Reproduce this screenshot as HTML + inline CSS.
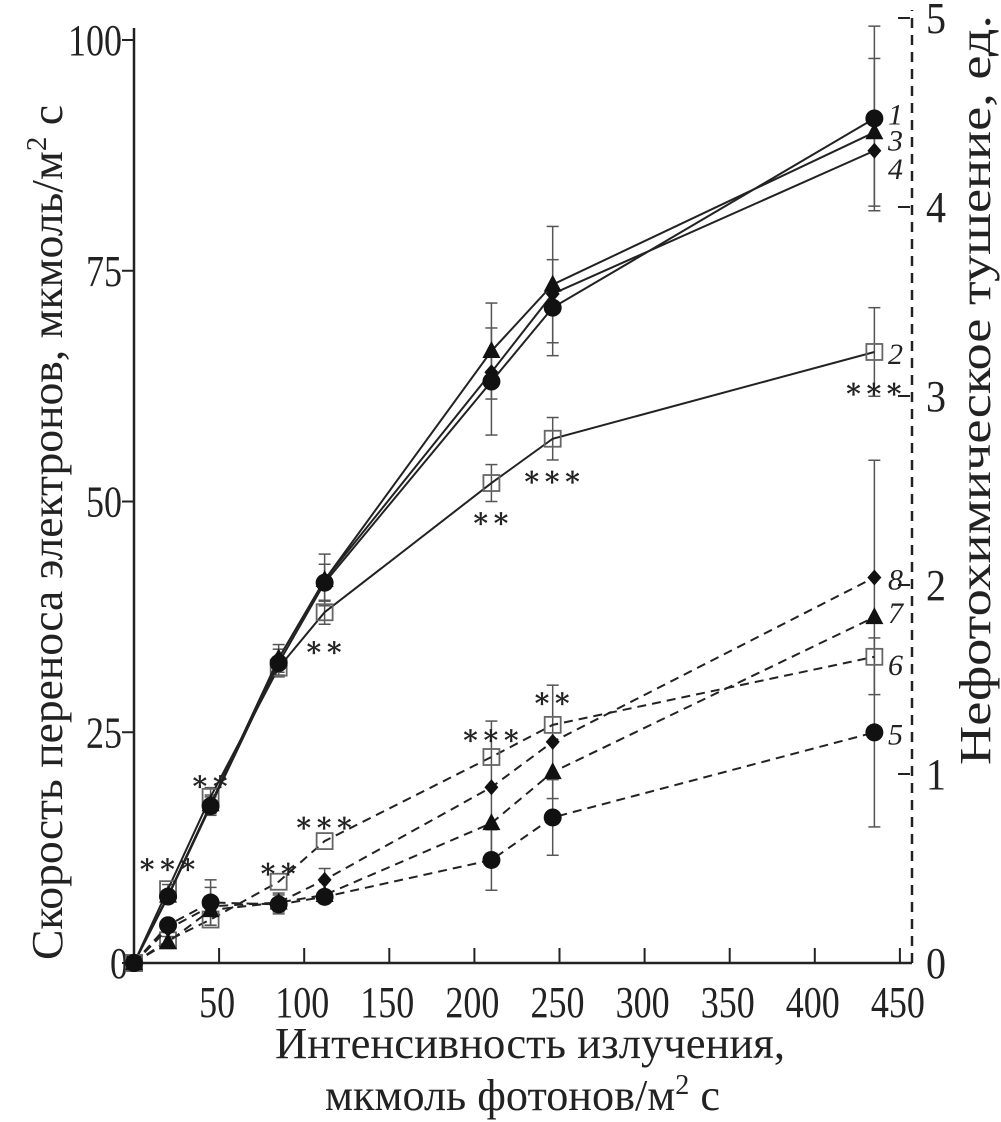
<!DOCTYPE html>
<html><head><meta charset="utf-8"><style>
html,body{margin:0;padding:0;background:#fff;}
svg{display:block;font-family:"Liberation Serif","DejaVu Serif",serif;}
</style></head><body>
<svg id="chart" width="1001" height="1122" viewBox="0 0 1001 1122" xmlns="http://www.w3.org/2000/svg">
<g id="axes"></g>
<g id="plot"></g>
<text x="275" y="1058" font-size="44" textLength="510" lengthAdjust="spacingAndGlyphs" fill="#222">Интенсивность излучения,</text>
<text x="325" y="1110" font-size="44" textLength="395" lengthAdjust="spacingAndGlyphs" fill="#222">мкмоль фотонов/м<tspan font-size="28" dy="-16">2</tspan><tspan dy="16"> с</tspan></text>
<text transform="translate(62,960) rotate(-90)" font-size="44" textLength="855" lengthAdjust="spacingAndGlyphs" fill="#222">Скорость переноса электронов, мкмоль/м<tspan font-size="28" dy="-16">2</tspan><tspan dy="16"> с</tspan></text>
<text transform="translate(990,765) rotate(-90)" font-size="44" textLength="750" lengthAdjust="spacingAndGlyphs" fill="#222">Нефотохимическое тушение, ед.</text>
</svg>
<script>
const xVals = [0, 20, 45, 85, 112, 210, 246, 435];
const s1 = [0, 7.2, 17, 32.5, 41.2, 63, 71, 91.5];
const s3 = [0, 7.3, 17.2, 33, 41.5, 66.3, 73.5, 90];
const s4 = [0, 7.2, 17.1, 33, 41.5, 64, 72.5, 88];
const s2 = [0, 8, 18, 32, 38, 52, 56.8, 66.2];
const s5 = [0, 0.2, 0.32, 0.31, 0.35, 0.545, 0.77, 1.22];
const s6 = [0, 0.12, 0.23, 0.43, 0.645, 1.09, 1.26, 1.62];
const s7 = [0, 0.11, 0.28, 0.32, 0.36, 0.74, 1.01, 1.83];
const s8 = [0, 0.18, 0.3, 0.32, 0.44, 0.93, 1.17, 2.04];
const e1 = [0, 0.5, 1, 1.5, 2, 5.8, 5.2, 10];
const e3 = [0, 0.5, 1, 1.5, 2.8, 5.2, 6.3, 8];
const e2 = [0, 0.5, 1, 0.8, 1.3, 2, 2.3, 4.8];
const e5 = [0, 0.03, 0.12, 0.05, 0.03, 0.16, 0.2, 0.5];
const e8 = [0, 0.04, 0.1, 0.05, 0.06, 0.35, 0.3, 0.62];
const xTicks = [50, 100, 150, 200, 250, 300, 350, 400, 450];
const yTicksLeft = [0, 25, 50, 75, 100];
const yTicksRight = [0, 1, 2, 3, 4, 5];
const stars = [[20, 11, "***"], [45, 20, "**"], [85, 10.5, "**"], [112, 15.5, "***"], [210, 25, "***"], [246, 29, "**"], [112, 34.5, "**"], [210, 48.5, "**"], [246, 53, "***"], [435, 62.5, "***"]];

const NS = "http://www.w3.org/2000/svg";
const X = v => 134 + v * 1.702;
const YL = v => 963 - v * 9.23;
const YR = v => 963 - v * 189;
const axes = document.getElementById('axes');
const plot = document.getElementById('plot');
function mk(tag, attrs, parent) {
  const el = document.createElementNS(NS, tag);
  for (const k in attrs) el.setAttribute(k, attrs[k]);
  parent.appendChild(el);
  return el;
}
let a = mk('line', {x1: 134, y1: 963, x2: 912, y2: 963, stroke: '#222', 'stroke-width': 2.5}, axes);


a = mk('line', {x1: 134, y1: 963, x2: 134, y2: 28, stroke: '#222', 'stroke-width': 2.5}, axes);


a = mk('line', {x1: 912, y1: 963, x2: 912, y2: 10, stroke: '#222', 'stroke-width': 2.5, 'stroke-dasharray': '10,7'}, axes);


xTicks.forEach(t => {
  const l = mk('line', {x1: X(t), y1: 963, x2: X(t), y2: 948, stroke: '#222', 'stroke-width': 2}, axes);
  
  
  const w = String(t).length * 18;
  const tx = mk('text', {x: X(t) - 2 - w / 2, y: 1017, 'font-size': 44, textLength: w, lengthAdjust: 'spacingAndGlyphs', fill: '#222'}, axes);
  tx.textContent = t;
  
  
});
yTicksLeft.forEach(t => {
  const l = mk('line', {x1: 134, y1: YL(t), x2: 122, y2: YL(t), stroke: '#222', 'stroke-width': 2}, axes);
  
  
  const w = String(t).length * 18;
  const tx = mk('text', {x: (t === 0 ? 128 : 122) - w, y: YL(t) + 15, 'font-size': 44, textLength: w, lengthAdjust: 'spacingAndGlyphs', fill: '#222'}, axes);
  tx.textContent = t;
  
  
});
yTicksRight.forEach(t => {
  const l = mk('line', {x1: 898, y1: YR(t), x2: 910, y2: YR(t), stroke: '#222', 'stroke-width': 2}, axes);
  
  
  const tx = mk('text', {x: 926, y: YR(t) + 15, 'font-size': 44, textLength: 20, lengthAdjust: 'spacingAndGlyphs', fill: '#222'}, axes);
  tx.textContent = t;
  
  
});
function errBars(vals, errs, Y, name) {
  vals.forEach((v, i) => {
    if (!errs[i]) return;
    const x = X(xVals[i]), y1 = Y(v - errs[i]), y2 = Y(v + errs[i]);
    const g = mk('g', {stroke: '#555', 'stroke-width': 1.5}, plot);
    
    
    mk('line', {x1: x, y1: y1, x2: x, y2: y2}, g);
    mk('line', {x1: x - 6, y1: y1, x2: x + 6, y2: y1}, g);
    mk('line', {x1: x - 6, y1: y2, x2: x + 6, y2: y2}, g);
  });
}
function series(vals, Y, dashed, shape, name) {
  const pts = vals.map((v, i) => X(xVals[i]) + ',' + Y(v)).join(' ');
  const pl = mk('polyline', {points: pts, fill: 'none', stroke: '#222', 'stroke-width': 2, 'stroke-dasharray': dashed ? '9,6' : 'none'}, plot);
  
  
  vals.forEach((v, i) => {
    const x = X(xVals[i]), y = Y(v);
    let m;
    if (shape === 'circle') m = mk('circle', {cx: x, cy: y, r: 9, fill: '#111'}, plot);
    else if (shape === 'tri') m = mk('polygon', {points: `${x},${y - 10} ${x - 9},${y + 7} ${x + 9},${y + 7}`, fill: '#111'}, plot);
    else if (shape === 'dia') m = mk('polygon', {points: `${x},${y - 8} ${x + 7},${y} ${x},${y + 8} ${x - 7},${y}`, fill: '#111'}, plot);
    else m = mk('rect', {x: x - 8, y: y - 8, width: 16, height: 16, fill: i === 0 ? '#111' : 'none', stroke: '#666', 'stroke-width': 1.8}, plot);
    
    
  });
}
errBars(s1, e1, YL, 'error-bar-1');
errBars(s3, e3, YL, 'error-bar-3');
errBars(s2, e2, YL, 'error-bar-2');
errBars(s5, e5, YR, 'error-bar-5');
errBars(s8, e8, YR, 'error-bar-8');
series(s2, YL, false, 'sq', 'series-2');
series(s4, YL, false, 'dia', 'series-4');
series(s3, YL, false, 'tri', 'series-3');
series(s1, YL, false, 'circle', 'series-1');
series(s6, YR, true, 'sq', 'series-6');
series(s8, YR, true, 'dia', 'series-8');
series(s7, YR, true, 'tri', 'series-7');
series(s5, YR, true, 'circle', 'series-5');
stars.forEach(s => {
  const t = mk('text', {x: X(s[0]), y: YL(s[1]) + 12, 'font-size': 28, 'font-weight': 'bold', 'text-anchor': 'middle', 'letter-spacing': 1, fill: '#222'}, plot);
  t.textContent = s[2].replace(/\*/g, '∗');
  
  
});
const labels = [['1', YL(s1[7]) - 4], ['3', YL(s3[7]) + 8], ['4', YL(s4[7]) + 18], ['2', YL(s2[7]) + 2], ['8', YR(s8[7]) + 2], ['7', YR(s7[7]) - 4], ['6', YR(s6[7]) + 8], ['5', YR(s5[7]) + 2]];
labels.forEach(l => {
  const t = mk('text', {x: 888, y: l[1] + 10, 'font-size': 30, 'font-style': 'italic', fill: '#222'}, plot);
  t.textContent = l[0];
  
  
});
</script>
</body></html>
